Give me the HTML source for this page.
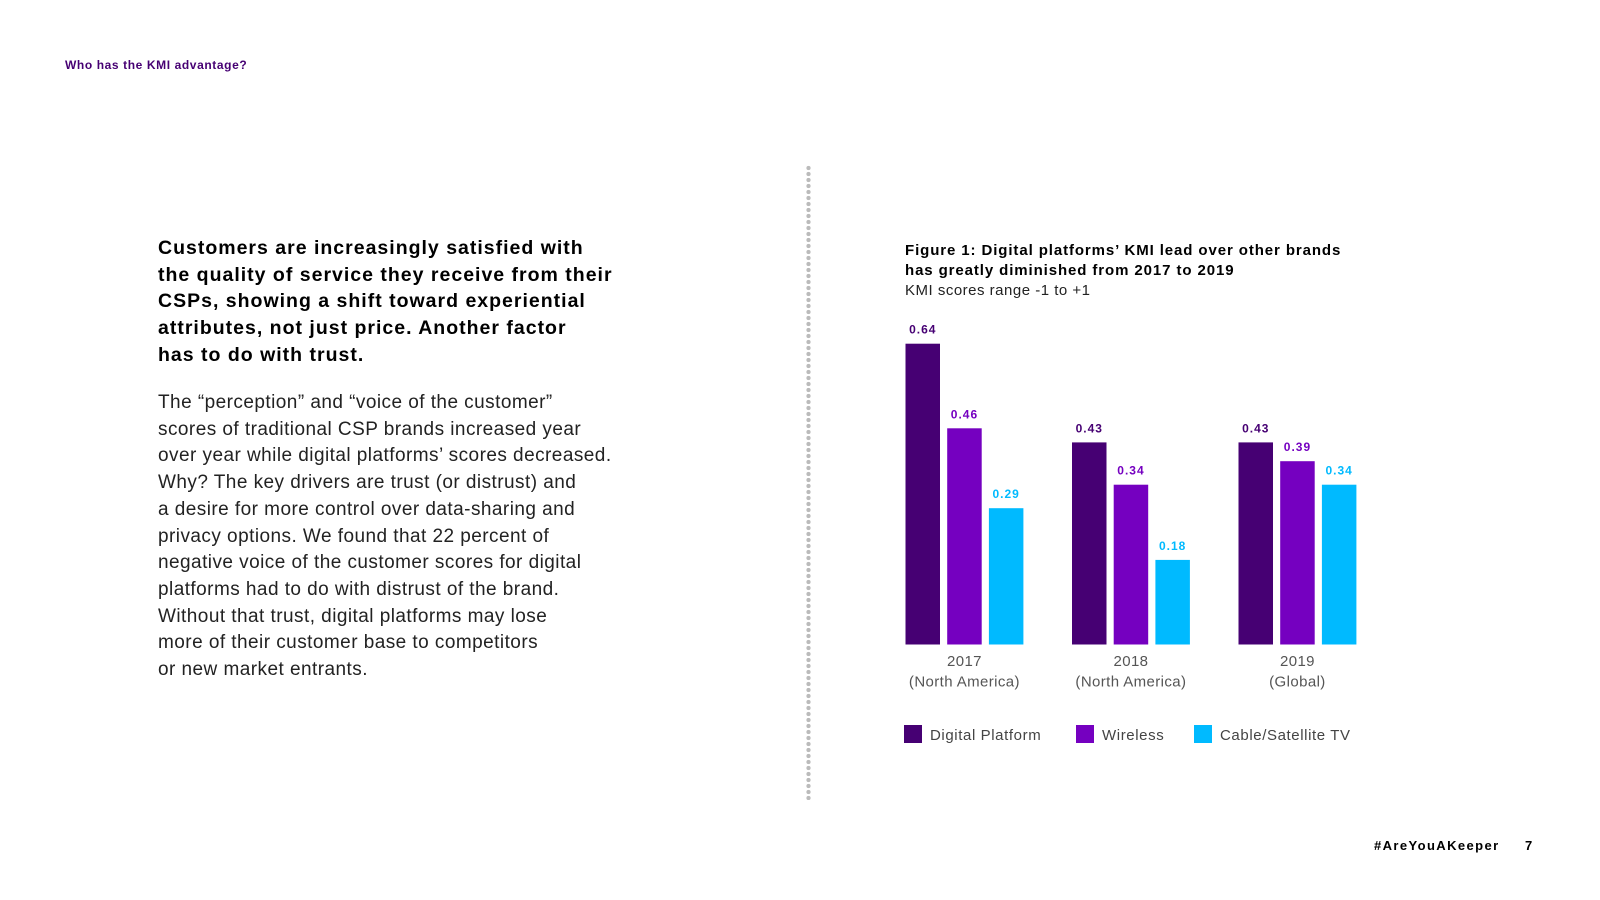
<!DOCTYPE html>
<html><head><meta charset="utf-8"><style>
body{margin:0;width:1600px;height:900px;background:#fff;font-family:"Liberation Sans",sans-serif;position:relative;overflow:hidden;color:#000}
.a{position:absolute;white-space:nowrap}
</style></head><body>
<div class="a" style="left:65px;top:58px;font-size:12px;font-weight:bold;color:#460073;letter-spacing:0.6px">Who has the KMI advantage?</div>
<div class="a" style="left:158px;top:235px;font-size:19.5px;font-weight:bold;line-height:26.7px;letter-spacing:1px">Customers are increasingly satisfied with<br>the quality of service they receive from their<br>CSPs, showing a shift toward experiential<br>attributes, not just price. Another factor<br>has to do with trust.</div>
<div class="a" style="left:158px;top:390px;font-size:19px;line-height:26.7px;color:#222;letter-spacing:0.45px">The “perception” and “voice of the customer”<br>scores of traditional CSP brands increased year<br>over year while digital platforms’ scores decreased.<br>Why? The key drivers are trust (or distrust) and<br>a desire for more control over data-sharing and<br>privacy options. We found that 22 percent of<br>negative voice of the customer scores for digital<br>platforms had to do with distrust of the brand.<br>Without that trust, digital platforms may lose<br>more of their customer base to competitors<br>or new market entrants.</div>
<div class="a" style="left:806px;top:165px;width:5px;height:635px;background:radial-gradient(circle,#bbb 2px,transparent 2.3px) 0 0/5px 6px repeat-y"></div>
<div class="a" style="left:905px;top:241px;font-size:15px;font-weight:bold;line-height:20px;letter-spacing:0.9px">Figure 1: Digital platforms’ KMI lead over other brands<br>has greatly diminished from 2017 to 2019</div>
<div class="a" style="left:905px;top:282px;font-size:15px;color:#222;letter-spacing:0.5px">KMI scores range -1 to +1</div>
<svg class="a" style="left:0;top:0" width="1600" height="900" id="chart"></svg>
<div class="a" style="left:1374px;top:838px;font-size:13px;font-weight:bold;letter-spacing:1.4px">#AreYouAKeeper</div>
<div class="a" style="left:1525px;top:838px;font-size:13px;font-weight:bold">7</div>
<script>
const categories=["2017|(North America)","2018|(North America)","2019|(Global)"];
const series=["Digital Platform","Wireless","Cable/Satellite TV"];
const digital=[0.64,0.43,0.43];
const wireless=[0.46,0.34,0.39];
const cable=[0.29,0.18,0.34];
const colors=["#460073","#7500c0","#00baff"];
const vals=[digital,wireless,cable];
const svg=document.getElementById('chart');const NS='http://www.w3.org/2000/svg';
const base=644.5,scale=470,x0=905.5,step=166.5,bw=34.5,gap=41.7;
const y=v=>base-v*scale;
function mk(t,a){const e=document.createElementNS(NS,t);for(const k in a)e.setAttribute(k,a[k]);svg.appendChild(e);return e;}
categories.forEach((c,i)=>{
 vals.forEach((s,j)=>{
  const x=x0+i*step+j*gap;
  const r=mk('rect',{x:x,y:y(s[i]),width:bw,height:s[i]*scale,fill:colors[j]});
  
  
  const t=mk('text',{x:x+bw/2,y:y(s[i])-10,'text-anchor':'middle','font-size':12,'font-weight':'bold','letter-spacing':1,fill:colors[j]});
  t.textContent=s[i].toFixed(2);
  
  
 });
 const cx=x0+i*step+gap+bw/2;
 c.split('|').forEach((l,k)=>{const t=mk('text',{x:cx,y:666+k*20.5,'text-anchor':'middle','font-size':15,'letter-spacing':0.4,fill:'#555'});t.textContent=l;
  
  });
});
const lx=[904,1076,1194];
series.forEach((s,j)=>{
 const r=mk('rect',{x:lx[j],y:725,width:18,height:18,fill:colors[j]});
 
 
 const t=mk('text',{x:lx[j]+26,y:740,'font-size':15,'letter-spacing':0.6,fill:'#444'});t.textContent=s;
 
 
});
</script>
</body></html>
